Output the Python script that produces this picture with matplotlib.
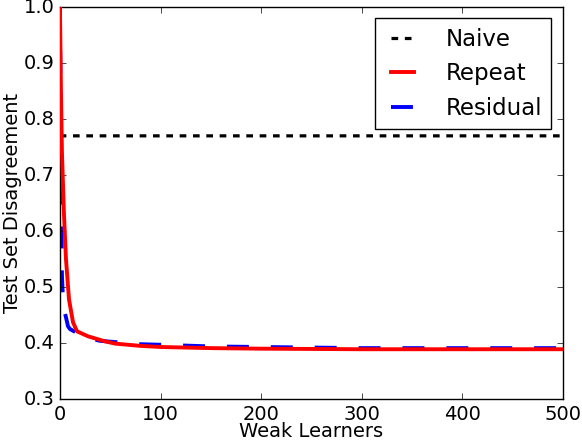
import numpy as np
import matplotlib
matplotlib.use("Agg")
import matplotlib.pyplot as plt

# data
naive_x = [0, 2, 500]
naive_y = [0.772, 0.770, 0.770]

repeat_x = [0, 1, 2, 4, 6, 9, 13, 17, 28, 45, 55, 80, 100, 150, 200, 300, 400, 500]
repeat_y = [1.0, 0.85, 0.74, 0.63, 0.55, 0.478, 0.437, 0.421, 0.412, 0.403, 0.399,
            0.395, 0.393, 0.391, 0.390, 0.389, 0.389, 0.389]

resid_x = [0, 1, 2, 3, 4, 6, 8, 10, 15, 20, 30, 40, 60, 80, 100, 150, 200, 250, 300, 400, 500]
resid_y = [1.0, 0.72, 0.52, 0.48, 0.46, 0.446, 0.43, 0.425, 0.42, 0.415, 0.408, 0.404,
           0.401, 0.398, 0.397, 0.394, 0.393, 0.392, 0.391, 0.391, 0.391]

plt.style.use('classic')
plt.rcParams['lines.scale_dashes'] = False

fig = plt.figure(figsize=(5.82, 4.4), dpi=100, facecolor='white')
ax = fig.add_axes([0.103, 0.093, 0.864, 0.891])

ax.plot(naive_x, naive_y, color='k', lw=2.3, dashes=(4.8, 4.8), label='Naive')
ax.plot(resid_x, resid_y, color='b', lw=2.8, dashes=(15.8, 15.8), label='Residual', zorder=2)
ax.plot(repeat_x, repeat_y, color='r', lw=2.8, label='Repeat', zorder=3)

ax.set_xlim(0, 500)
ax.set_ylim(0.3, 1.0)
ax.set_xticks(range(0, 501, 100))
ax.set_yticks(np.arange(0.3, 1.01, 0.1))
ax.tick_params(labelsize=14)
ax.set_xlabel('Weak Learners', fontsize=14, labelpad=-1)
ax.set_ylabel('Test Set Disagreement', fontsize=14, labelpad=1)

h, l = ax.get_legend_handles_labels()
order = [0, 2, 1]
ax.legend([h[i] for i in order], [l[i] for i in order], loc='upper right',
          fontsize=16.5, handlelength=1.6, handletextpad=1.1, frameon=True)

fig.savefig('out.png', dpi=100, facecolor='white')
